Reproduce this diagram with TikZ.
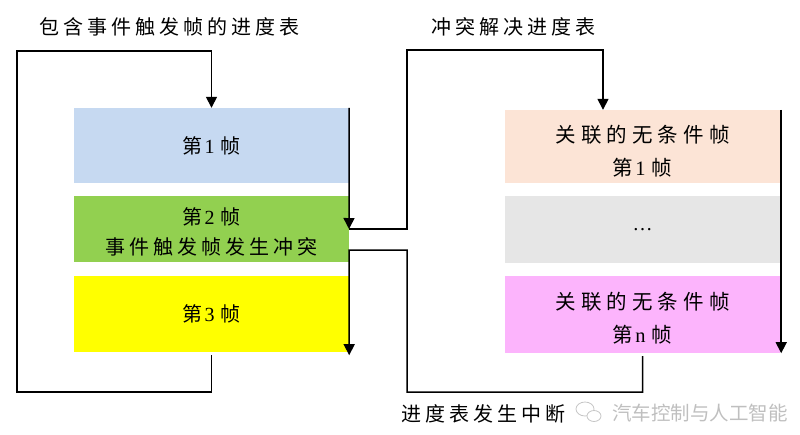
\documentclass[tikz,border=0pt]{standalone}
\usepackage{fontspec}
\setmainfont{Liberation Serif}
\newfontfamily\cjk{Noto Sans CJK SC}[LetterSpace=20]
\newfontfamily\cjkw{Noto Sans CJK SC}[LetterSpace=25]
\newfontfamily\cjkwm{Noto Sans CJK SC}
\usetikzlibrary{arrows.meta}
\newcommand\zh[1]{{\cjk #1}}
\newcommand\zw[1]{{\cjkw #1}}
\newcommand\dg[1]{\hspace{2pt}#1\hspace{6pt}}
\definecolor{cblue}{HTML}{C6D9F1}
\definecolor{cgreen}{HTML}{92D050}
\definecolor{cyellow}{HTML}{FFFF00}
\definecolor{cpeach}{HTML}{FCE4D6}
\definecolor{cgray}{HTML}{E6E6E6}
\definecolor{cpink}{HTML}{FCB4FC}
\tikzset{
  frame/.style={minimum width=275pt, inner sep=0pt, align=center,
    font=\fontsize{20pt}{30pt}\selectfont},
  txt/.style={inner sep=0pt, align=center, font=\fontsize{20pt}{30pt}\selectfont},
  rtxt/.style={txt, font=\fontsize{20.5pt}{33pt}\selectfont},
  lbl/.style={inner sep=0pt, font=\fontsize{20pt}{24pt}\selectfont},
  conn/.style={line width=1.5pt, black},
  arr/.style={conn, -{Triangle[width=11pt,length=11pt]}}
}
\begin{document}
\begin{tikzpicture}[x=1pt,y=-1pt]
\useasboundingbox (0,0) rectangle (800,434);
% left column
\node[frame, fill=cblue, minimum height=75pt] (l1) at (211.5,145.5) {\zh{第}\dg{1}\zh{帧}};
\node[frame, fill=cgreen, minimum height=66pt] (l2) at (211.5,229) {};
\node[txt] (l2t) at ([yshift=-3pt]l2.center) {\zh{第}\dg{2}\zh{帧}\\\zh{事件触发帧发生冲突}};
\node[frame, fill=cyellow, minimum height=76pt] (l3) at (211.5,314) {\zh{第}\dg{3}\zh{帧}};
% right column
\node[frame, fill=cpeach, minimum height=73pt] (r1) at (642.5,146.5) {};
\node[rtxt] (r1t) at ([yshift=-5pt]r1.center) {\zw{关联的无条件帧}\\\zh{第}\dg{1}\zh{帧}};
\node[frame, fill=cgray, minimum height=67pt] (r2) at (642.5,229.5) {\ldots};
\node[frame, fill=cpink, minimum height=77pt] (r3) at (642.5,314.5) {};
\node[rtxt] (r3t) at ([yshift=-4pt]r3.center) {\zw{关联的无条件帧}\\\zh{第}\dg{n}\zh{帧}};
% labels
\node[lbl] (t1) at (169,27) {\zh{包含事件触发帧的进度表}};
\node[lbl] (t2) at (513,27) {\zh{冲突解决进度表}};
\node[lbl] (t3) at (483,414) {\zh{进度表发生中断}};
\node[inner sep=0pt, text=gray!50, font=\fontsize{19.5pt}{22pt}\cjkwm] (wm) at (700,413) {汽车控制与人工智能};
\draw[gray!45, line width=0.8pt] (585,409) ellipse (9pt and 7pt);
\draw[gray!45, line width=0.8pt, fill=white] (594,416) ellipse (7pt and 5.5pt);
% coordinates
\coordinate (lb) at (17,392);
\coordinate (lt) at (211.5,51);
\coordinate (c1) at (349,229);
\coordinate (c2) at (349,250);
\coordinate (ca) at (407,50);
\coordinate (rb) at (407,392);
% connectors
\draw[arr] ([yshift=-3pt]l3.south) |- (lb) |- (lt) -- (l1.north);
\draw[arr] (l1.north east) -- (c1);
\draw[arr] (c1) -| (ca) -| ([xshift=-39.5pt]r1.north);
\draw[arr] ([yshift=-3pt]r3.south) |- (rb) |- (c2) -- ([yshift=-3pt]l3.south east);
\draw[arr] ([xshift=1pt]r1.north east) -- ([xshift=1pt]r3.south east);
\end{tikzpicture}
\end{document}
